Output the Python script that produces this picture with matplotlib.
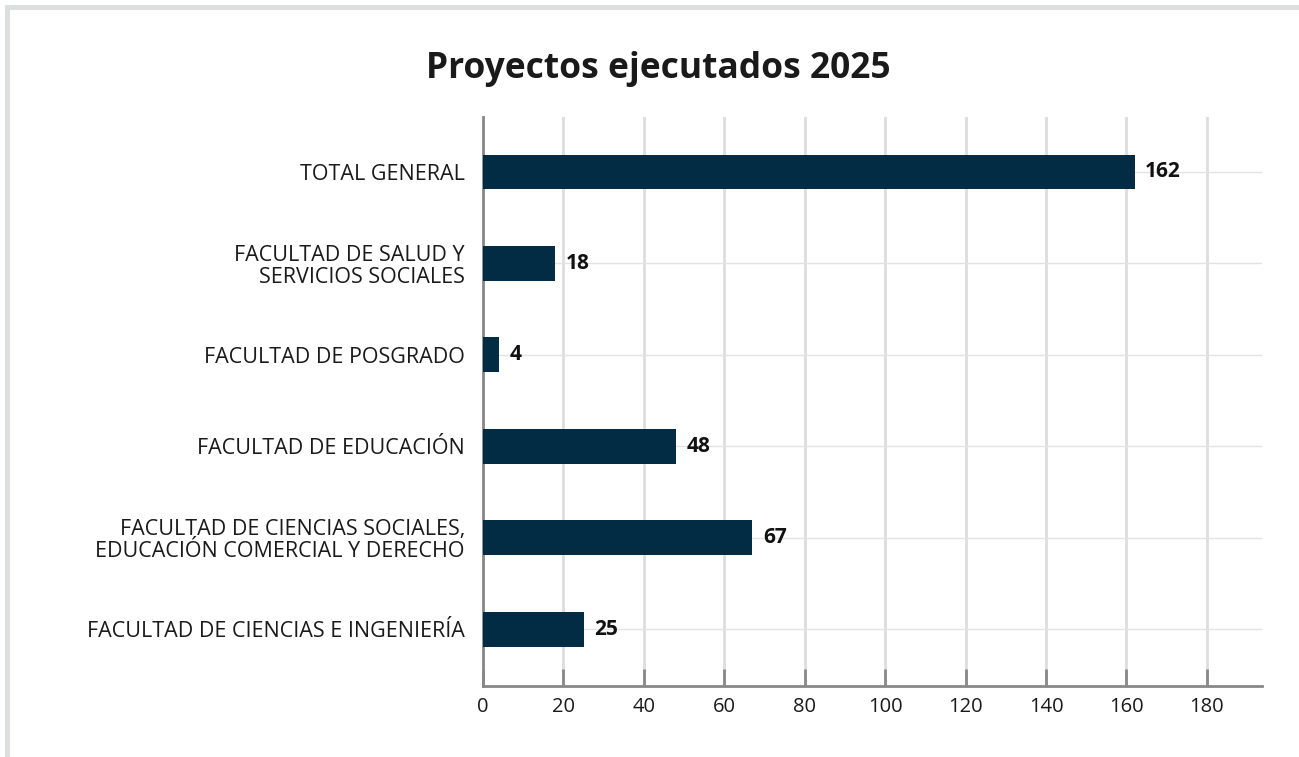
import matplotlib as mpl
mpl.use('agg')
import matplotlib.pyplot as plt
from matplotlib.patches import Rectangle

categories = [
    'FACULTAD DE CIENCIAS E INGENIERÍA',
    'FACULTAD DE CIENCIAS SOCIALES,\nEDUCACIÓN COMERCIAL Y DERECHO',
    'FACULTAD DE EDUCACIÓN',
    'FACULTAD DE POSGRADO',
    'FACULTAD DE SALUD Y\nSERVICIOS SOCIALES',
    'TOTAL GENERAL',
]
values = [25, 67, 48, 4, 18, 162]
xticks = [0, 20, 40, 60, 80, 100, 120, 140, 160, 180]
title = 'Proyectos ejecutados 2025'

plt.rcParams['font.family'] = ['Open Sans', 'DejaVu Sans']

W, H = 1299, 757
fig = plt.figure(figsize=(W / 100, H / 100), dpi=100)

# light grey frame around the card
fig.patches.append(Rectangle((7 / W, -0.1), 1.2, 1 - 7 / H + 0.1,
                             transform=fig.transFigure, fill=False,
                             edgecolor='#dcdddd', linewidth=3.5))

ax = fig.add_axes([483 / W, 1 - 686 / H, (1262 - 483) / W, (686 - 117) / H])

ypos = list(range(len(categories)))
ax.barh(ypos, values, height=0.38, color='#022c43', zorder=3)
for y, v in zip(ypos, values):
    ax.text(v + 2.6, y, str(v), va='center', ha='left', fontsize=15,
            fontweight='bold', color='#111111', zorder=4)

ax.set_xlim(0, 193.7)
ax.set_ylim(-0.62, 5.6)
ax.set_xticks(xticks)
ax.set_yticks(ypos)
ax.set_yticklabels(categories, fontsize=15.5, color='#1a1a1a', linespacing=1.05)

ax.grid(axis='x', color='#dddddd', linewidth=2, zorder=0)
ax.grid(axis='y', color='#e3e3e3', linewidth=1, zorder=0)

for s in ['top', 'right']:
    ax.spines[s].set_visible(False)
for s in ['left', 'bottom']:
    ax.spines[s].set_color('#888888')
    ax.spines[s].set_linewidth(2)

ax.tick_params(axis='x', direction='in', length=12, width=2, color='#888888',
               labelsize=14.5, labelcolor='#1a1a1a', pad=8)
ax.tick_params(axis='y', length=0, pad=13)

fig.text(658 / W, 1 - 69 / H, title, ha='center', va='center',
         fontsize=25.5, fontweight='bold', color='#1a1a1a')

fig.savefig('out.png', dpi=100)
